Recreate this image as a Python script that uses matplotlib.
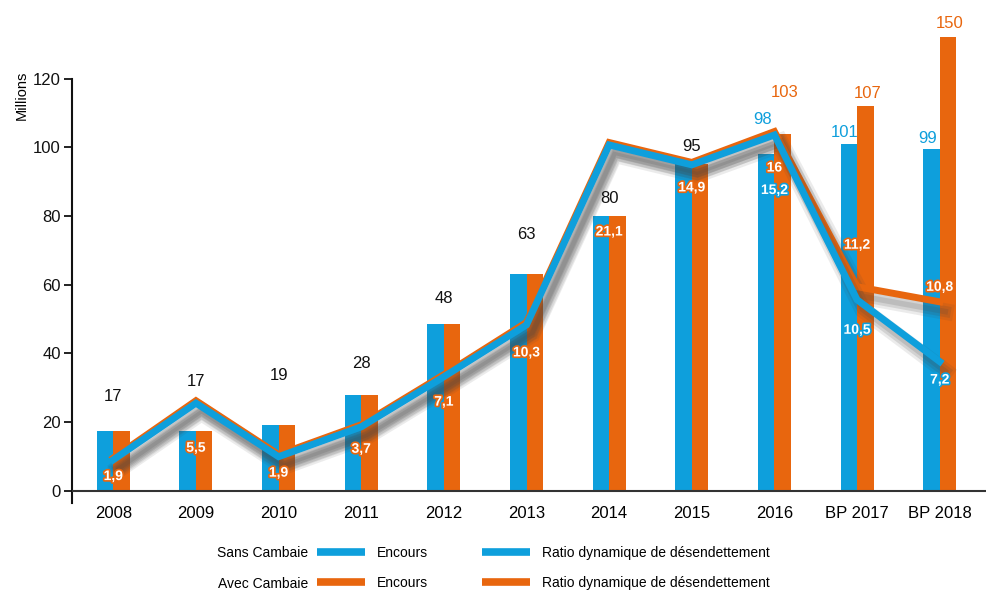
import numpy as np
import matplotlib
matplotlib.use('Agg')
import matplotlib.pyplot as plt
import matplotlib.patheffects as pe
from matplotlib.lines import Line2D

plt.rcParams['font.family'] = ['Liberation Sans', 'DejaVu Sans']

# data
categories = ['2008', '2009', '2010', '2011', '2012', '2013', '2014', '2015',
              '2016', 'BP 2017', 'BP 2018']
sans_encours = [17.5, 17.5, 19, 28, 48.5, 63, 80, 95, 98, 101, 99.5]
avec_encours = [17.5, 17.5, 19, 28, 48.5, 63, 80, 95, 104, 112, 132]
sans_labels = ['17', '17', '19', '28', '48', '63', '80', '95', '98', '101', '99']
avec_labels = ['17', '17', '19', '28', '48', '63', '80', '95', '103', '107', '150']

sans_ratio_line = [9, 25.5, 9.9, 18.6, 33.2, 48.3, 100.7, 94.9, 103.6, 55.6, 37.6]
avec_ratio_line = [9.5, 26.2, 10.5, 19.2, 33.8, 49, 101.4, 95.6, 104.6, 59.4, 55]
sans_ratio = ['1,9', '5,5', '1,9', '3,7', '7,1', '10,3', '21,1', '14,9', '15,2', '10,5', '7,2']
avec_ratio = ['1,9', '5,5', '1,9', '3,7', '7,1', '10,3', '21,1', '14,9', '16', '11,2', '10,8']

n_shared = 8  # years where both series are identical (single label)

# label layout (pixel offsets)
shared_bar_off = [34, 49, 50, 31, 26, 40, 18, 18]
sans_bar_off = [35, 11, 11]
avec_bar_off = [41, 13, 14]
shared_ratio_off = [-18, -47, -18, -24, -27, -30, -89, -25]
sans_ratio_off = [-55, -30, -18]
avec_ratio_off = [-36, 42, 15]

BLUE = '#0e9fdc'
ORANGE = '#e8660e'

fig = plt.figure(figsize=(9.86, 5.91), dpi=100)
ax = fig.add_axes([0.073, 0.1465, 0.927, 0.8366])

x = np.arange(len(categories))
w = 0.2
ax.bar(x - w / 2, sans_encours, w, color=BLUE, zorder=2)
ax.bar(x + w / 2, avec_encours, w, color=ORANGE, zorder=2)

shadow = [pe.SimpleLineShadow(offset=(4, -7), shadow_color='#444444', alpha=0.10, linewidth=12),
          pe.SimpleLineShadow(offset=(4, -7), shadow_color='#444444', alpha=0.15, linewidth=8),
          pe.SimpleLineShadow(offset=(4, -7), shadow_color='#444444', alpha=0.15, linewidth=4),
          pe.Normal()]
ax.plot(x, avec_ratio_line, color=ORANGE, lw=5, zorder=3,
        solid_joinstyle='miter', path_effects=shadow)
ax.plot(x, sans_ratio_line, color=BLUE, lw=5, zorder=4,
        solid_joinstyle='miter', path_effects=shadow)

ax.axhline(0, color='#333333', lw=1.5, zorder=5)

# value labels on bars
for i in range(len(categories)):
    if i < n_shared:
        top = max(sans_encours[i], avec_encours[i])
        ax.annotate(sans_labels[i], (x[i], top), xytext=(0, shared_bar_off[i]),
                    textcoords='offset pixels', ha='center', va='center',
                    fontsize=12, color='#111111', zorder=6)
    else:
        j = i - n_shared
        ax.annotate(sans_labels[i], (x[i] - w / 2, sans_encours[i]),
                    xytext=(-4, sans_bar_off[j]), textcoords='offset pixels',
                    ha='center', va='center', fontsize=12, color=BLUE, zorder=6)
        ax.annotate(avec_labels[i], (x[i] + w / 2, avec_encours[i]),
                    xytext=(2, avec_bar_off[j]), textcoords='offset pixels',
                    ha='center', va='center', fontsize=12, color=ORANGE, zorder=6)

# ratio labels
def ratio_label(xp, yp, txt, off, col):
    ax.annotate(txt, (xp, yp), xytext=(0, off), textcoords='offset pixels',
                ha='center', va='center', fontsize=10, fontweight='bold',
                color='white', zorder=7,
                path_effects=[pe.withStroke(linewidth=2.4, foreground=col)])

for i in range(len(categories)):
    if i < n_shared:
        ratio_label(x[i], avec_ratio_line[i], avec_ratio[i], shared_ratio_off[i], ORANGE)
    else:
        j = i - n_shared
        ratio_label(x[i], avec_ratio_line[i], avec_ratio[i], avec_ratio_off[j], ORANGE)
        ratio_label(x[i], sans_ratio_line[i], sans_ratio[i], sans_ratio_off[j], BLUE)

ax.set_xlim(-0.5, 10.56)
ax.set_ylim(-4, 140)
ax.set_yticks([0, 20, 40, 60, 80, 100, 120])
ax.set_xticks(x)
ax.set_xticklabels(categories)
ax.tick_params(axis='x', length=0, pad=1, labelsize=12)
ax.tick_params(axis='y', length=6, width=1.3, labelsize=12, pad=2, colors='#111111')
for s in ['top', 'right', 'bottom']:
    ax.spines[s].set_visible(False)
ax.spines['left'].set_bounds(-3.5, 120)
ax.spines['left'].set_linewidth(1.5)
ax.spines['left'].set_color('#111111')

ax.set_ylabel('Millions', fontsize=10.5)
ax.yaxis.set_label_coords(-0.047, 0.828)

# legend
handles = [Line2D([], [], color=BLUE, lw=5.5, solid_capstyle='butt'),
           Line2D([], [], color=ORANGE, lw=5.5, solid_capstyle='butt'),
           Line2D([], [], color=BLUE, lw=5.5, solid_capstyle='butt'),
           Line2D([], [], color=ORANGE, lw=5.5, solid_capstyle='butt')]
labels = ['Encours', 'Encours',
          'Ratio dynamique de désendettement', 'Ratio dynamique de désendettement']
fig.legend(handles, labels, ncol=2, loc='upper left',
           bbox_to_anchor=(317 / 986, 1 - 546 / 591), frameon=False,
           fontsize=10, handlelength=3.45, handletextpad=0.86,
           columnspacing=3.9, labelspacing=1.15, borderpad=0, borderaxespad=0)
fig.text(308 / 986, 1 - 553 / 591, 'Sans Cambaie', ha='right', va='center', fontsize=10)
fig.text(308 / 986, 1 - 584 / 591, 'Avec Cambaie', ha='right', va='center', fontsize=10)

fig.savefig('out.png', dpi=100)
